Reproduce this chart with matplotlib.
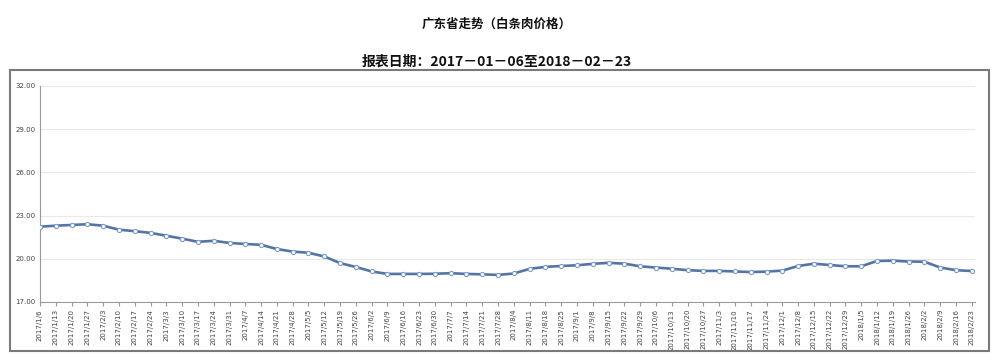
# 广东省白条肉价格走势

import numpy as np
import matplotlib.pyplot as plt
from matplotlib.patches import Rectangle

plt.rcParams['font.family'] = ['Noto Sans CJK SC', 'DejaVu Sans']

dates = ['2017/1/6', '2017/1/13', '2017/1/20', '2017/1/27', '2017/2/3', '2017/2/10',
         '2017/2/17', '2017/2/24', '2017/3/3', '2017/3/10', '2017/3/17', '2017/3/24',
         '2017/3/31', '2017/4/7', '2017/4/14', '2017/4/21', '2017/4/28', '2017/5/5',
         '2017/5/12', '2017/5/19', '2017/5/26', '2017/6/2', '2017/6/9', '2017/6/16',
         '2017/6/23', '2017/6/30', '2017/7/7', '2017/7/14', '2017/7/21', '2017/7/28',
         '2017/8/4', '2017/8/11', '2017/8/18', '2017/8/25', '2017/9/1', '2017/9/8',
         '2017/9/15', '2017/9/22', '2017/9/29', '2017/10/6', '2017/10/13', '2017/10/20',
         '2017/10/27', '2017/11/3', '2017/11/10', '2017/11/17', '2017/11/24', '2017/12/1',
         '2017/12/8', '2017/12/15', '2017/12/22', '2017/12/29', '2018/1/5', '2018/1/12',
         '2018/1/19', '2018/1/26', '2018/2/2', '2018/2/9', '2018/2/16', '2018/2/23']

prices = [22.23, 22.30, 22.35, 22.40, 22.30, 22.02, 21.92, 21.80, 21.60, 21.40,
          21.18, 21.25, 21.10, 21.03, 20.97, 20.68, 20.50, 20.42, 20.16, 19.70,
          19.43, 19.12, 18.95, 18.95, 18.95, 18.96, 19.00, 18.95, 18.92, 18.88,
          18.98, 19.30, 19.44, 19.50, 19.55, 19.65, 19.72, 19.66, 19.48, 19.39,
          19.31, 19.21, 19.16, 19.16, 19.12, 19.08, 19.11, 19.18, 19.50, 19.66,
          19.57, 19.48, 19.48, 19.85, 19.87, 19.81, 19.80, 19.39, 19.21, 19.15]

yticks = [17, 20, 23, 26, 29, 32]

fig = plt.figure(figsize=(9.94, 3.64), dpi=100)

# outer frame like the report box
fig.patches.append(Rectangle((10/994, 1-351/364), 979/994, 281/364,
                             transform=fig.transFigure, fill=False,
                             edgecolor='#7a7a7a', lw=1.5))

fig.text(0.5, 1-24/364, '广东省走势（白条肉价格）', ha='center', va='center',
         fontsize=9, fontweight='bold', color='#111111')
fig.text(0.5, 1-62/364, '报表日期：2017－01－06至2018－02－23', ha='center', va='center',
         fontsize=10, fontweight='bold', color='#111111')

ax = fig.add_axes([40/994, 1-302/364, 935/994, 216/364])
x = np.arange(len(dates))
ax.plot(x, prices, color='#5574a6', lw=1.9, solid_capstyle='round', zorder=3)
ax.plot(x, prices, linestyle='none', marker='o', ms=3.0, mfc='white',
        mec='#7d9bc8', mew=0.8, zorder=5)

ax.set_xlim(0, len(dates) - 1 + 0.2)
ax.set_ylim(17, 32)
ax.set_yticks(yticks)
ax.set_yticklabels(['%.2f' % v for v in yticks], fontsize=5, color='#444444',
                   family=['DejaVu Sans'])
ax.set_xticks(x)
ax.set_xticklabels(dates, rotation=90, fontsize=5, color='#444444',
                   family=['DejaVu Sans'])
ax.tick_params(axis='both', length=3, color='#999999', pad=2)
ax.tick_params(axis='y', length=0, pad=3)

for v in yticks[1:]:
    ax.axhline(v, color='#e8e8e8', lw=0.8, zorder=1)

for s in ['top', 'right']:
    ax.spines[s].set_visible(False)
ax.spines['left'].set_color('#999999')
ax.spines['bottom'].set_color('#999999')

plt.savefig('out.png', dpi=100)
